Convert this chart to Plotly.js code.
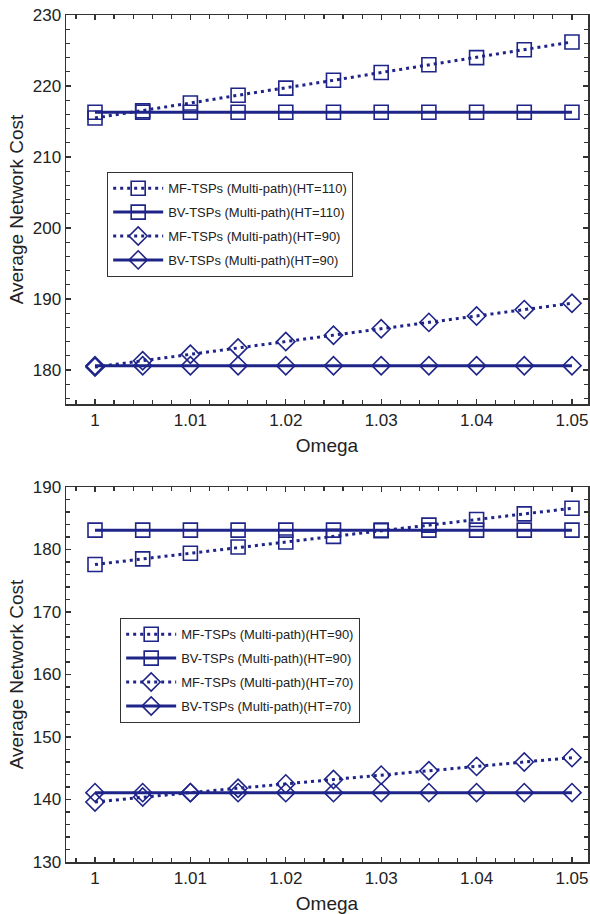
<!DOCTYPE html>
<html>
<head>
<meta charset="utf-8">
<script src="https://cdn.plot.ly/plotly-3.0.1.min.js"></script>
<style>html,body{margin:0;padding:0;background:#fff}#chart{width:590px;height:914px}</style>
</head>
<body>
<div id="chart"></div>
<script>
const omega = [1, 1.005, 1.01, 1.015, 1.02, 1.025, 1.03, 1.035, 1.04, 1.045, 1.05];

// Top panel
const mfHT110 = [215.5, 216.5, 217.6, 218.7, 219.7, 220.8, 221.9, 223.0, 224.0, 225.1, 226.2];
const bvHT110 = [216.3, 216.3, 216.3, 216.3, 216.3, 216.3, 216.3, 216.3, 216.3, 216.3, 216.3];
const mfHT90a = [180.4, 181.3, 182.2, 183.1, 184.0, 184.9, 185.8, 186.7, 187.6, 188.5, 189.4];
const bvHT90a = [180.6, 180.6, 180.6, 180.6, 180.6, 180.6, 180.6, 180.6, 180.6, 180.6, 180.6];

// Bottom panel
const mfHT90b = [177.6, 178.5, 179.4, 180.4, 181.2, 182.1, 183.0, 183.9, 184.8, 185.7, 186.6];
const bvHT90b = [183.1, 183.1, 183.1, 183.1, 183.1, 183.1, 183.1, 183.1, 183.1, 183.1, 183.1];
const mfHT70 = [139.6, 140.4, 141.1, 141.8, 142.5, 143.2, 143.9, 144.6, 145.3, 146.0, 146.7];
const bvHT70 = [141.1, 141.1, 141.1, 141.1, 141.1, 141.1, 141.1, 141.1, 141.1, 141.1, 141.1];

const topNames = ['MF-TSPs (Multi-path)(HT=110)', 'BV-TSPs (Multi-path)(HT=110)', 'MF-TSPs (Multi-path)(HT=90)', 'BV-TSPs (Multi-path)(HT=90)'];
const botNames = ['MF-TSPs (Multi-path)(HT=90)', 'BV-TSPs (Multi-path)(HT=90)', 'MF-TSPs (Multi-path)(HT=70)', 'BV-TSPs (Multi-path)(HT=70)'];

const C = '#1e2488';

let gi = 0;
function tr(y, name, dotted, symbol, xa, ya, leg) {
  gi += 1;
  return {
    x: omega, y: y, name: name, type: 'scatter', mode: 'lines+markers',
    xaxis: xa, yaxis: ya, legend: leg, legendgroup: 'g' + gi,
    line: {color: C, width: 3, dash: dotted ? '3px,4px' : 'solid'},
    marker: {symbol: symbol, size: 14, color: C, line: {color: C, width: 1.6}}
  };
}

const data = [
  tr(mfHT110, topNames[0], true, 'square-open', 'x', 'y', 'legend'),
  tr(bvHT110, topNames[1], false, 'square-open', 'x', 'y', 'legend'),
  tr(mfHT90a, topNames[2], true, 'diamond-open', 'x', 'y', 'legend'),
  tr(bvHT90a, topNames[3], false, 'diamond-open', 'x', 'y', 'legend'),
  tr(mfHT90b, botNames[0], true, 'square-open', 'x2', 'y2', 'legend2'),
  tr(bvHT90b, botNames[1], false, 'square-open', 'x2', 'y2', 'legend2'),
  tr(mfHT70, botNames[2], true, 'diamond-open', 'x2', 'y2', 'legend2'),
  tr(bvHT70, botNames[3], false, 'diamond-open', 'x2', 'y2', 'legend2')
];

const F = 'Liberation Sans, Arial, sans-serif';
const axBase = {
  showline: true, linecolor: '#333', linewidth: 1.5, mirror: 'allticks',
  ticks: 'inside', ticklen: 5, tickwidth: 1.2, tickcolor: '#333',
  showgrid: false, zeroline: false,
  tickfont: {family: F, size: 17, color: '#222'}
};
function xax(anchor) {
  return Object.assign({}, axBase, {
    anchor: anchor, range: [0.99696, 1.05168], tickvals: [1, 1.01, 1.02, 1.03, 1.04, 1.05],
    ticktext: ['1', '1.01', '1.02', '1.03', '1.04', '1.05'],
    minor: {dtick: 0.002, tick0: 1, ticks: 'inside', ticklen: 4, tickcolor: '#333', tickwidth: 1.2},
    title: {text: 'Omega', font: {family: F, size: 19, color: '#222'}, standoff: 10}
  });
}
function yax(anchor, range, domain) {
  return Object.assign({}, axBase, {
    anchor: anchor, range: range, domain: domain, dtick: 10, tick0: 0,
    minor: {dtick: 2, ticks: 'inside', ticklen: 4, tickcolor: '#333', tickwidth: 1.2},
    title: {text: 'Average Network Cost', font: {family: F, size: 19, color: '#222'}, standoff: 4}
  });
}

const legBase = {
  xanchor: 'left', yanchor: 'top',
  bgcolor: '#fff', bordercolor: '#333', borderwidth: 1.2,
  font: {family: F, size: 13, color: '#222'}, itemwidth: 50, tracegroupgap: 4
};

const layout = {
  width: 590, height: 914,
  margin: {l: 66, r: 2, t: 15, b: 52},
  paper_bgcolor: '#fff', plot_bgcolor: '#fff',
  showlegend: true,
  xaxis: xax('y'),
  yaxis: yax('x', [175.2, 230], [0.5407, 1]),
  xaxis2: xax('y2'),
  yaxis2: yax('x2', [130, 190], [0, 0.4427]),
  legend: Object.assign({}, legBase, {x: 0.0785, y: 0.8146}),
  legend2: Object.assign({}, legBase, {x: 0.1034, y: 0.288})
};

Plotly.newPlot('chart', data, layout, {displayModeBar: false, staticPlot: true});
</script>
</body>
</html>
